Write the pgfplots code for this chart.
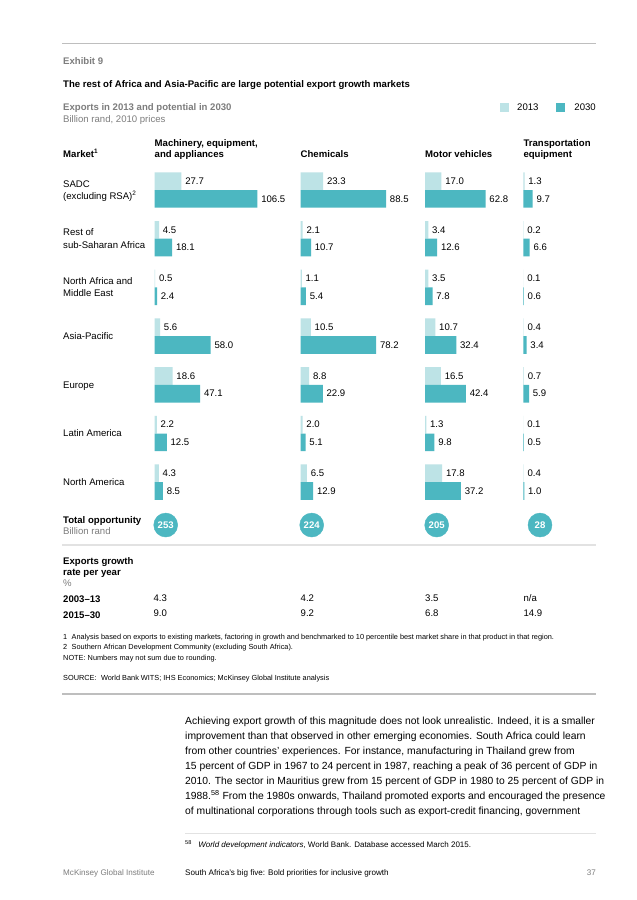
\documentclass[border=0pt]{standalone}
\usepackage{pgfplots}
\pgfplotsset{compat=1.18}
\usepackage{fontspec}
\setmainfont{Liberation Sans}

\definecolor{light}{RGB}{189,227,230}
\definecolor{dark}{RGB}{76,183,193}
\definecolor{txtgray}{RGB}{125,125,125}
\definecolor{rulegray}{RGB}{190,190,190}
\definecolor{sepgray}{RGB}{226,226,226}

\newcommand\lab{\fontsize{9}{11}\selectfont}
\newcommand\ttl{\fontsize{9}{11}\selectfont}
\newcommand\bodyf{\fontsize{9.7}{14}\selectfont}
\newcommand\fnf{\fontsize{6.9}{8}\selectfont}
\newcommand\foot{\fontsize{7.6}{9}\selectfont}

% one px of the reference = 842/900 bp
\pgfplotsset{
  /pgf/number format/assume math mode=true,
  col/.style={
    hide axis, clip=false, anchor=north west,
    x=0.9028bp, y=45.56bp, y dir=reverse,
    xmin=0, xmax=115, ymin=-0.5, ymax=6.5,
  },
  lbl/.style={
    nodes near coords={\pgfmathprintnumber[fixed,fixed zerofill,precision=1]{\pgfplotspointmeta}},
    every node near coord/.style={anchor=west, inner sep=0pt, xshift=3.4bp, yshift=#1, font=\lab, text=black},
  },
  y13/.style={xbar, bar width=16.56bp, bar shift=8.28bp, fill=light, draw=none, lbl=8.28bp},
  y30/.style={xbar, bar width=16.56bp, bar shift=-8.28bp, fill=dark, draw=none, lbl=-8.28bp},
  tot/.style={only marks, mark=*, mark size=11.2bp, color=dark,
    point meta=explicit symbolic, nodes near coords,
    every node near coord/.style={anchor=center, inner sep=0pt, text=white, font=\lab\bfseries}},
}

\begin{document}
\begin{tikzpicture}[x=0.93556bp, y=-0.93556bp, every node/.style={inner sep=0pt}]
\fill[white] (0,0) rectangle (636,900);
\path[use as bounding box] (0,0) rectangle (636,900);

% header
\draw[rulegray, line width=1.4bp] (62,43.3) -- (596,43.3);
\node[anchor=base west, font=\lab\bfseries, text=txtgray] at (63,64.2) {Exhibit 9};
\node[anchor=base west, font=\ttl\bfseries] at (63,87.6) {The rest of Africa and Asia-Pacific are large potential export growth markets};
\node[anchor=base west, font=\lab\bfseries, text=txtgray] at (63,110.8) {Exports in 2013 and potential in 2030};
\node[anchor=base west, font=\lab, text=txtgray] at (63,122.4) {Billion rand, 2010 prices};

% legend
\fill[light] (499.5,103.2) rectangle (508.5,112.2);
\node[anchor=base west, font=\lab] at (517,110.8) {2013};
\fill[dark] (556,103.2) rectangle (565,112.2);
\node[anchor=base east, font=\lab] at (596,110.8) {2030};

% column heads
\node[anchor=base west, font=\lab\bfseries] at (63,157.4) {Market\textsuperscript{1}};
\node[anchor=base west, font=\lab\bfseries] at (154.5,146.4) {Machinery, equipment,};
\node[anchor=base west, font=\lab\bfseries] at (154.5,157.4) {and appliances};
\node[anchor=base west, font=\lab\bfseries] at (300.5,157.4) {Chemicals};
\node[anchor=base west, font=\lab\bfseries] at (425,157.4) {Motor vehicles};
\node[anchor=base west, font=\lab\bfseries] at (523.3,146.4) {Transportation};
\node[anchor=base west, font=\lab\bfseries] at (523.3,157.4) {equipment};

% market names
\node[anchor=base west, font=\lab] at (63,187.4) {SADC};
\node[anchor=base west, font=\lab] at (63,199.1) {(excluding RSA)\textsuperscript{2}};
\node[anchor=base west, font=\lab] at (63,235.8) {Rest of};
\node[anchor=base west, font=\lab] at (63,248.1) {sub-Saharan Africa};
\node[anchor=base west, font=\lab] at (63,284.8) {North Africa and};
\node[anchor=base west, font=\lab] at (63,296.4) {Middle East};
\node[anchor=base west, font=\lab] at (63,339.1) {Asia-Pacific};
\node[anchor=base west, font=\lab] at (63,388.1) {Europe};
\node[anchor=base west, font=\lab] at (63,436.4) {Latin America};
\node[anchor=base west, font=\lab] at (63,485.8) {North America};
\node[anchor=base west, font=\lab\bfseries] at (63,523.1) {Total opportunity};
\node[anchor=base west, font=\lab, text=txtgray] at (63,534.8) {Billion rand};

\coordinate (c1) at (154.7,165.65);
\coordinate (c2) at (300.7,165.65);
\coordinate (c3) at (425,165.65);
\coordinate (c4) at (523.3,165.65);

% Machinery, equipment, and appliances
\begin{axis}[col, at={(c1)}]
\addplot[y13] coordinates {(27.7,0) (4.5,1) (0.5,2) (5.6,3) (18.6,4) (2.2,5) (4.3,6)};
\addplot[y30] coordinates {(106.5,0) (18.1,1) (2.4,2) (58.0,3) (47.1,4) (12.5,5) (8.5,6)};
\addplot[tot] coordinates {(11.4,6.88) [253]};
\end{axis}

% Chemicals
\begin{axis}[col, at={(c2)}]
\addplot[y13] coordinates {(23.3,0) (2.1,1) (1.1,2) (10.5,3) (8.8,4) (2.0,5) (6.5,6)};
\addplot[y30] coordinates {(88.5,0) (10.7,1) (5.4,2) (78.2,3) (22.9,4) (5.1,5) (12.9,6)};
\addplot[tot] coordinates {(11.4,6.88) [224]};
\end{axis}

% Motor vehicles
\begin{axis}[col, at={(c3)}]
\addplot[y13] coordinates {(17.0,0) (3.4,1) (3.5,2) (10.7,3) (16.5,4) (1.3,5) (17.8,6)};
\addplot[y30] coordinates {(62.8,0) (12.6,1) (7.8,2) (32.4,3) (42.4,4) (9.8,5) (37.2,6)};
\addplot[tot] coordinates {(12.1,6.88) [205]};
\end{axis}

% Transportation equipment
\begin{axis}[col, at={(c4)}, xmax=60]
\addplot[y13] coordinates {(1.3,0) (0.2,1) (0.1,2) (0.4,3) (0.7,4) (0.1,5) (0.4,6)};
\addplot[y30] coordinates {(9.7,0) (6.6,1) (0.6,2) (3.4,3) (5.9,4) (0.5,5) (1.0,6)};
\addplot[tot] coordinates {(17.3,6.88) [28]};
\end{axis}

\draw[sepgray, line width=1.9bp] (62,545) -- (596,545);

% growth rates
\node[anchor=base west, font=\lab\bfseries] at (63,564.1) {Exports growth};
\node[anchor=base west, font=\lab\bfseries] at (63,575.6) {rate per year};
\node[anchor=base west, font=\lab, text=txtgray] at (63,586.6) {\%};
\node[anchor=base west, font=\lab\bfseries] at (63,602.1) {2003--13};
\node[anchor=base west, font=\lab\bfseries] at (63,618.1) {2015--30};
\foreach \x/\a/\b in {153.3/4.3/9.0, 300.5/4.2/9.2, 425/3.5/6.8, 523.3/n\slash a/14.9} {
  \node[anchor=base west, font=\lab] at (\x,601.4) {\a};
  \node[anchor=base west, font=\lab] at (\x,616.9) {\b};
}

% notes
\node[anchor=base west, font=\fnf] at (63,639.7) {1\hspace{0.6em}Analysis based on exports to existing markets, factoring in growth and benchmarked to 10 percentile best market share in that product in that region.};
\node[anchor=base west, font=\fnf] at (63,649.9) {2\hspace{0.6em}Southern African Development Community (excluding South Africa).};
\node[anchor=base west, font=\fnf] at (63,660.1) {NOTE: Numbers may not sum due to rounding.};
\node[anchor=base west, font=\fnf] at (63,680) {SOURCE:\hspace{0.6em}World Bank WITS; IHS Economics; McKinsey Global Institute analysis};

\draw[rulegray, line width=1.4bp] (62,694) -- (596,694);

% body text
\begin{scope}[every node/.style={anchor=base west, inner sep=0pt, font=\bodyf}]
\node at (185,724) {Achieving export growth of this magnitude does not look unrealistic. Indeed, it is a smaller};
\node at (185,739) {improvement than that observed in other emerging economies. South Africa could learn};
\node at (185,754) {from other countries’ experiences. For instance, manufacturing in Thailand grew from};
\node at (185,769) {15 percent of GDP in 1967 to 24 percent in 1987, reaching a peak of 36 percent of GDP in};
\node at (185,784) {2010. The sector in Mauritius grew from 15 percent of GDP in 1980 to 25 percent of GDP in};
\node at (185,799) {1988.\textsuperscript{58} From the 1980s onwards, Thailand promoted exports and encouraged the presence};
\node at (185,814) {of multinational corporations through tools such as export-credit financing, government};
\end{scope}

\draw[sepgray, line width=0.9bp] (185,833) -- (596,833);
\node[anchor=base west, font=\fontsize{7.5}{9}\selectfont] at (185,847.8) {\textsuperscript{58}\hspace{0.8em}\textit{World development indicators}, World Bank. Database accessed March 2015.};

% footer
\node[anchor=base west, font=\foot, text=txtgray] at (63,875.6) {McKinsey Global Institute};
\node[anchor=base west, font=\foot] at (185,875.6) {South Africa’s big five: Bold priorities for inclusive growth};
\node[anchor=base east, font=\foot, text=txtgray] at (596,875.6) {37};
\end{tikzpicture}
\end{document}
